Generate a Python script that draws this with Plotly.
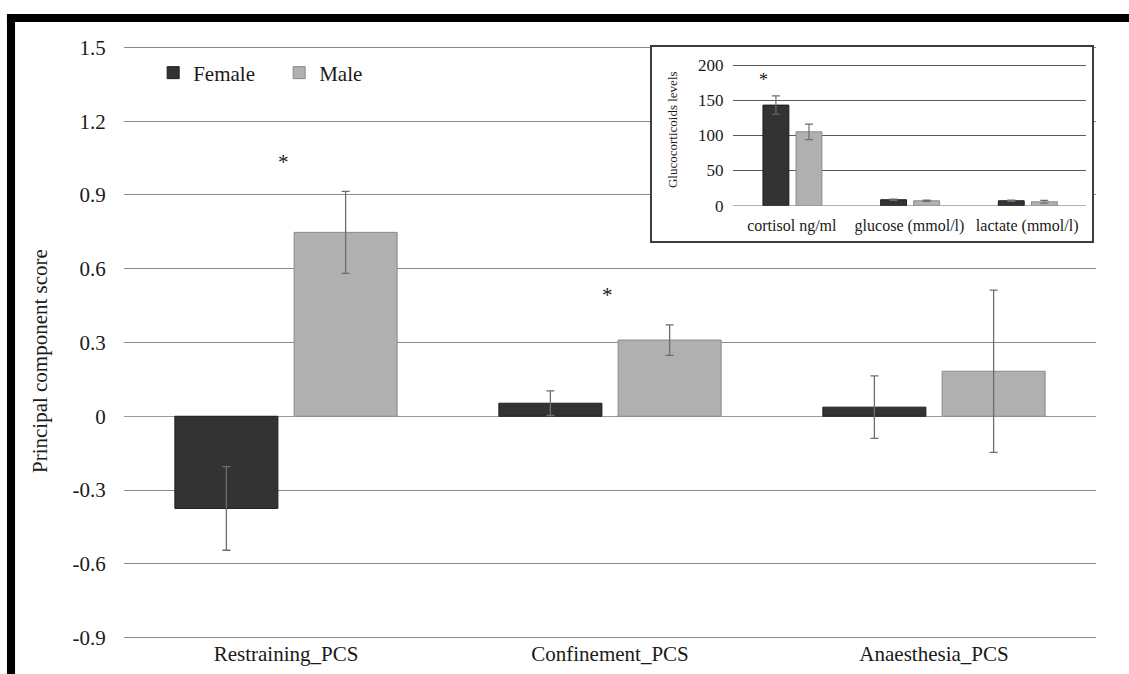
import plotly.graph_objects as go

# ---------------- data ----------------
categories = ["Restraining_PCS", "Confinement_PCS", "Anaesthesia_PCS"]
female = [-0.375, 0.053, 0.037]
female_err = [0.170, 0.050, 0.127]
male = [0.748, 0.310, 0.183]
male_err = [0.167, 0.062, 0.330]
y_ticks = [-0.9, -0.6, -0.3, 0, 0.3, 0.6, 0.9, 1.2, 1.5]
y_ticktext = ["-0.9", "-0.6", "-0.3", "0", "0.3", "0.6", "0.9", "1.2", "1.5"]
sig_cats = ["Restraining_PCS", "Confinement_PCS"]
sig_y = [1.035, 0.495]

inset_categories = ["cortisol ng/ml", "glucose (mmol/l)", "lactate (mmol/l)"]
inset_female = [143, 8.5, 7.0]
inset_female_err = [13, 1.0, 1.0]
inset_male = [105, 7.0, 5.5]
inset_male_err = [11, 1.0, 2.0]
inset_ticks = [0, 50, 100, 150, 200]
inset_sig_cats = ["cortisol ng/ml"]
inset_sig_y = [178]

FONT = "Liberation Serif"
F_COL = "#333333"
M_COL = "#b0b0b0"
ERR_COL = "#6e6e6e"
TXT = "#1a1a1a"

fig = go.Figure()

# main bars
fig.add_trace(go.Bar(
    x=categories, y=female, name="Female",
    marker=dict(color=F_COL, line=dict(color="#1e1e1e", width=1)),
    width=0.318, offset=-0.343,
    error_y=dict(type="data", array=female_err, color=ERR_COL, thickness=1.3, width=4),
    xaxis="x", yaxis="y"))
fig.add_trace(go.Bar(
    x=categories, y=male, name="Male",
    marker=dict(color=M_COL, line=dict(color="#8a8a8a", width=1)),
    width=0.318, offset=0.025,
    error_y=dict(type="data", array=male_err, color=ERR_COL, thickness=1.3, width=4),
    xaxis="x", yaxis="y"))

# empty helper subplot that forms the white framed inset box
fig.add_trace(go.Scatter(x=[], y=[], xaxis="x2", yaxis="y2", showlegend=False,
                         hoverinfo="skip"))

# inset bars
fig.add_trace(go.Bar(
    x=inset_categories, y=inset_female, name="Female", showlegend=False,
    marker=dict(color=F_COL, line=dict(color="#1e1e1e", width=1)),
    width=0.22, offset=-0.245,
    error_y=dict(type="data", array=inset_female_err, color=ERR_COL, thickness=1.2, width=4),
    xaxis="x3", yaxis="y3"))
fig.add_trace(go.Bar(
    x=inset_categories, y=inset_male, name="Male", showlegend=False,
    marker=dict(color=M_COL, line=dict(color="#8a8a8a", width=1)),
    width=0.22, offset=0.036,
    error_y=dict(type="data", array=inset_male_err, color=ERR_COL, thickness=1.2, width=4),
    xaxis="x3", yaxis="y3"))

annotations = []
for c, yv in zip(sig_cats, sig_y):
    annotations.append(dict(x=c, y=yv, xref="x", yref="y", text="*", showarrow=False,
                            xanchor="center", yanchor="middle",
                            font=dict(family=FONT, size=21, color=TXT), xshift=-3))
for c, yv in zip(inset_sig_cats, inset_sig_y):
    annotations.append(dict(x=c, y=yv, xref="x3", yref="y3", text="*", showarrow=False,
                            xanchor="center", yanchor="middle",
                            font=dict(family=FONT, size=18, color=TXT), xshift=-28))
annotations.append(dict(x=-0.0864, y=0.4688, xref="paper", yref="paper",
                        xanchor="center", yanchor="middle",
                        text="Principal component score", textangle=-90, showarrow=False,
                        font=dict(family=FONT, size=21, color=TXT)))
annotations.append(dict(x=0.5638, y=0.8583, xref="paper", yref="paper",
                        xanchor="center", yanchor="middle",
                        text="Glucocorticoids levels", textangle=-90, showarrow=False,
                        font=dict(family=FONT, size=13, color=TXT)))

shapes = [
    # thick black frame (top and left)
    dict(type="rect", xref="paper", yref="paper", x0=-0.1204, x1=1.04, y0=1.0405, y1=1.054,
         fillcolor="black", line=dict(width=0), layer="above"),
    dict(type="rect", xref="paper", yref="paper", x0=-0.1204, x1=-0.1121, y0=-0.08, y1=1.054,
         fillcolor="black", line=dict(width=0), layer="above"),
]

fig.update_layout(
    template="none",
    width=1129, height=674,
    margin=dict(l=124, r=33, t=46, b=35, autoexpand=False),
    paper_bgcolor="white", plot_bgcolor="white",
    barmode="overlay",
    font=dict(family=FONT, color=TXT),
    showlegend=True,
    legend=dict(orientation="h", x=0.03, y=0.9545, xanchor="left", yanchor="middle",
                font=dict(family=FONT, size=21, color=TXT), entrywidth=81,
                bgcolor="rgba(0,0,0,0)", traceorder="normal"),
    xaxis=dict(domain=[0, 1], anchor="y", showgrid=False, showline=False, zeroline=False,
               ticks="", automargin=False,
               tickfont=dict(family=FONT, size=21, color=TXT),
               range=[-0.5, 2.5]),
    yaxis=dict(domain=[0, 1], anchor="x", range=[-0.906, 1.506], tickvals=y_ticks,
               ticktext=y_ticktext, automargin=False,
               showgrid=True, gridcolor="#8a8a8a", gridwidth=1,
               zeroline=True, zerolinecolor="#9a9a9a", zerolinewidth=1,
               showline=False, ticks="outside", ticklen=13, tickcolor="rgba(0,0,0,0)",
               tickfont=dict(family=FONT, size=21, color=TXT)),
    # inset frame subplot
    xaxis2=dict(domain=[0.5432, 0.9959], anchor="y2", range=[0, 1], showgrid=False, zeroline=False,
                showticklabels=False, ticks="", showline=True, mirror=True, automargin=False,
                linecolor="#3c3c3c", linewidth=2),
    yaxis2=dict(domain=[0.6712, 0.9983], anchor="x2", range=[0, 1], showgrid=False, zeroline=False,
                showticklabels=False, ticks="", showline=True, mirror=True, automargin=False,
                linecolor="#3c3c3c", linewidth=2),
    # inset chart
    xaxis3=dict(domain=[0.6265, 0.9897], anchor="y3", range=[-0.5, 2.5], showgrid=False,
                showline=False, zeroline=False, ticks="outside", ticklen=5, automargin=False,
                tickcolor="rgba(0,0,0,0)",
                tickfont=dict(family=FONT, size=16, color=TXT)),
    yaxis3=dict(domain=[0.7307, 0.9715], anchor="x3", range=[0, 203], tickvals=inset_ticks,
                showgrid=True, gridcolor="#5a5a5a", gridwidth=1, automargin=False,
                zeroline=True, zerolinecolor="#b0b0b0", zerolinewidth=1,
                showline=False, ticks="outside", ticklen=5, tickcolor="rgba(0,0,0,0)",
                tickfont=dict(family=FONT, size=17, color=TXT)),
    annotations=annotations,
    shapes=shapes,
)

fig.write_html("out.html", config={"displayModeBar": False},
               post_script="document.body.style.margin='0px';")
